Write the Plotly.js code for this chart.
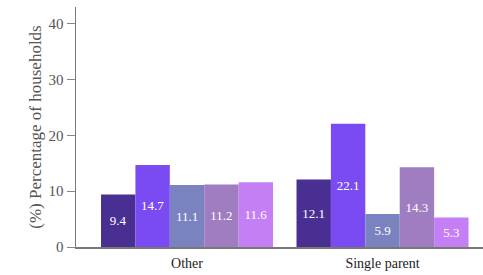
<!DOCTYPE html>
<html>
<head>
<meta charset="utf-8">
<script src="https://cdn.plot.ly/plotly-3.0.1.min.js"></script>
<style>html,body{margin:0;padding:0;background:#fff;}#chart{width:483px;height:275px;}</style>
</head>
<body>
<div id="chart"></div>
<script>
const categories = ["Other", "Single parent"];
const seriesNames = ["Series 1", "Series 2", "Series 3", "Series 4", "Series 5"];
const series1 = [9.4, 12.1];
const series2 = [14.7, 22.1];
const series3 = [11.1, 5.9];
const series4 = [11.2, 14.3];
const series5 = [11.6, 5.3];
const colors = ["#4a2f92", "#7a4bf3", "#7a82bf", "#a07dc0", "#c57ff4"];
const allSeries = [series1, series2, series3, series4, series5];
const SERIF = "'Liberation Serif', 'DejaVu Serif', 'Times New Roman', serif";

const traces = allSeries.map((vals, i) => ({
  type: "bar",
  name: seriesNames[i],
  x: categories,
  y: vals,
  marker: { color: colors[i] },
  text: vals.map(v => v.toFixed(1)),
  textposition: "inside",
  insidetextanchor: "middle",
  textangle: 0,
  textfont: { family: SERIF, size: 13, color: "#ffffff" },
  hoverinfo: "none"
}));

const layout = {
  width: 483, height: 275,
  margin: { l: 76, r: 0, t: 7, b: 28, pad: 0 },
  paper_bgcolor: "#fff", plot_bgcolor: "#fff",
  showlegend: false,
  barmode: "group",
  bargap: 0.12,
  bargroupgap: 0,
  font: { family: SERIF, size: 13, color: "#333" },
  xaxis: {
    type: "category",
    range: [-0.568, 1.514],
    showline: true, linecolor: "#777", linewidth: 1.5,
    ticks: "outside", ticklen: 3, tickcolor: "rgba(0,0,0,0)",
    showgrid: false, zeroline: false,
    tickfont: { family: SERIF, size: 14, color: "#222" }
  },
  yaxis: {
    range: [0, 43],
    tickvals: [0, 10, 20, 30, 40],
    showline: true, linecolor: "#777", linewidth: 1.5,
    ticks: "outside", ticklen: 8, tickcolor: "#888",
    showgrid: false, zeroline: false,
    tickfont: { family: SERIF, size: 15, color: "#555" },
    title: { text: "(%) Percentage of households", font: { family: SERIF, size: 17, color: "#555" }, standoff: 2 }
  }
};

Plotly.newPlot("chart", traces, layout, { staticPlot: true, displayModeBar: false });
</script>
</body>
</html>
